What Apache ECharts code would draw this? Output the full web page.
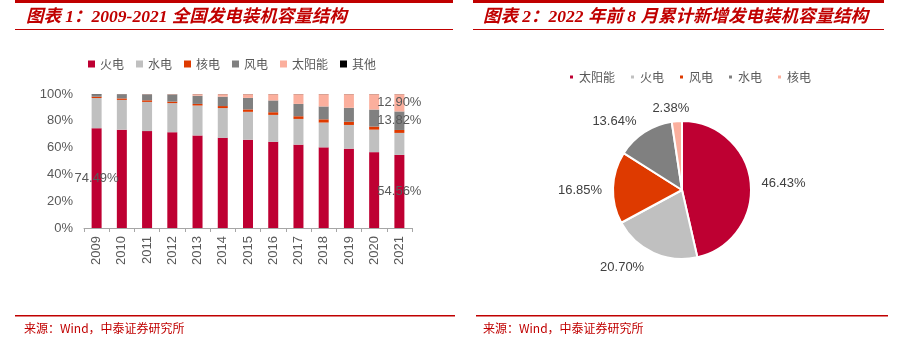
<!DOCTYPE html>
<html><head><meta charset="utf-8">
<script src="https://cdn.jsdelivr.net/npm/echarts@6/dist/echarts.min.js"></script>
<style>html,body{margin:0;padding:0;background:#fff}
#wrap{position:relative;width:899px;height:355px}
#c{position:absolute;left:0;top:0;width:899px;height:355px}
#p{position:absolute;left:460px;top:0;width:439px;height:355px}</style>
</head><body><div id="wrap"><div id="c"></div><div id="p"></div></div>
<script>
const years = ['2009','2010','2011','2012','2013','2014','2015','2016','2017','2018','2019','2020','2021'];
const fire    = [74.49,73.4,72.3,71.5,69.1,67.3,65.9,64.3,62.2,60.2,59.2,56.6,54.56];
const hydro   = [22.5,22.2,21.8,21.7,22.3,22.2,20.8,20.1,19.2,18.5,17.7,16.8,16.4];
const nuclear = [1.0,1.1,1.2,1.1,1.2,1.5,1.8,2.0,2.0,2.4,2.4,2.3,2.2];
const wind    = [1.8,3.1,4.4,5.3,6.1,7.0,8.6,8.8,9.2,9.6,10.4,12.7,13.82];
const solar   = [0.01,0.1,0.2,0.3,1.2,1.9,2.8,4.7,7.3,9.2,10.2,11.5,12.90];
const other   = [0.2,0.1,0.1,0.1,0.1,0.1,0.1,0.1,0.1,0.1,0.1,0.1,0.1];
const yTicks  = ['0%','20%','40%','60%','80%','100%'];

const pieNames  = ['太阳能','火电','风电','水电','核电'];
const pieValues = [46.43,20.70,16.85,13.64,2.38];

const C = {fire:'#BE0032', hydro:'#C0C0C0', nuclear:'#DE3A00', wind:'#808080', solar:'#FBAF9D', other:'#000000'};
const RED = '#C00000';
const titleFont = 'bold italic 17.5px "Liberation Serif", "Noto Sans CJK SC", serif';
const cjkFont = '"Noto Sans CJK SC", sans-serif';
const numFont = '"Liberation Sans", Arial, sans-serif';

function labeled(arr, idxs) {
  return arr.map((v, i) => idxs.includes(i)
    ? {value: v, label: {show: true, position: 'inside', formatter: v.toFixed(2) + '%', color: '#595959', fontSize: 13, fontFamily: numFont}}
    : v);
}

const barSeries = [
  ['火电', labeled(fire, [0, 12]), C.fire],
  ['水电', hydro, C.hydro],
  ['核电', nuclear, C.nuclear],
  ['风电', labeled(wind, [12]), C.wind],
  ['太阳能', labeled(solar, [12]), C.solar],
  ['其他', other, C.other]
].map(([n, d, c]) => ({
  name: n, type: 'bar', stack: 's', data: d, barWidth: 10,
  itemStyle: {color: c}, label: {show: false}, emphasis: {disabled: true}
}));

const chart = echarts.init(document.getElementById('c'), null, {renderer: 'canvas'});
chart.setOption({
  animation: false,
  backgroundColor: '#fff',
  legend: {
    data: ['火电','水电','核电','风电','太阳能','其他'],
    left: 88, top: 58, padding: 0, itemWidth: 7, itemHeight: 7, itemGap: 12, icon: 'rect',
    textStyle: {color: '#595959', fontSize: 12, fontFamily: cjkFont}
  },
  grid: {left: 84, top: 94, width: 328, height: 134, containLabel: false},
  xAxis: {
    type: 'category', data: years,
    axisLine: {lineStyle: {color: '#A6A6A6'}},
    axisTick: {show: true, length: 4, lineStyle: {color: '#A6A6A6'}},
    axisLabel: {rotate: 90, color: '#595959', fontSize: 13, fontFamily: numFont, margin: 8}
  },
  yAxis: {
    type: 'value', min: 0, max: 100, interval: 20,
    axisLine: {show: false}, axisTick: {show: false}, splitLine: {show: false},
    axisLabel: {color: '#595959', fontSize: 13, fontFamily: numFont, margin: 11,
      formatter: (v) => yTicks[Math.round(v / 20)]}
  },
  series: barSeries,
  graphic: [
    {type: 'rect', shape: {x: 15, y: 0, width: 438, height: 3}, style: {fill: RED}},
    {type: 'rect', shape: {x: 15, y: 29, width: 438, height: 1}, style: {fill: RED}},
    {type: 'rect', shape: {x: 473, y: 0, width: 411, height: 3}, style: {fill: RED}},
    {type: 'rect', shape: {x: 473, y: 29, width: 411, height: 1}, style: {fill: RED}},
    {type: 'rect', shape: {x: 15, y: 315, width: 440, height: 1.5}, style: {fill: RED}},
    {type: 'rect', shape: {x: 476, y: 315, width: 412, height: 1.5}, style: {fill: RED}},
    {type: 'text', left: 26, top: 9, style: {text: '图表 1：2009-2021 全国发电装机容量结构', font: titleFont, fill: RED}},
    {type: 'text', left: 483, top: 9, style: {text: '图表 2：2022 年前 8 月累计新增发电装机容量结构', font: titleFont, fill: RED}},
    {type: 'text', left: 24, top: 322, style: {text: '来源：Wind，中泰证券研究所', font: '12px ' + cjkFont, fill: RED}},
    {type: 'text', left: 483, top: 322, style: {text: '来源：Wind，中泰证券研究所', font: '12px ' + cjkFont, fill: RED}}
  ]
});

const labelShift = [[-6, 2], [3, 7], [1, 3], [5, -7], [22, -5]];
const pie = echarts.init(document.getElementById('p'), null, {renderer: 'canvas'});
pie.setOption({
  animation: false,
  backgroundColor: 'transparent',
  legend: {
    data: pieNames,
    left: 108, top: 71, padding: 0, itemWidth: 5, itemHeight: 5, itemGap: 14, icon: 'rect',
    textStyle: {color: '#595959', fontSize: 12, fontFamily: cjkFont}
  },
  series: [{
    type: 'pie', name: 'pie', center: [222, 190], radius: 69, startAngle: 90, clockwise: true,
    data: pieNames.map((n, i) => ({name: n, value: pieValues[i],
      itemStyle: {color: [C.fire, C.hydro, C.nuclear, C.wind, C.solar][i]}})),
    itemStyle: {borderColor: '#fff', borderWidth: 2},
    label: {show: true, position: 'outside', formatter: (p) => p.value.toFixed(2) + '%',
      color: '#404040', fontSize: 13, fontFamily: numFont},
    labelLine: {show: false, length: 8, length2: 4},
    labelLayout: (p) => ({dx: labelShift[p.dataIndex][0], dy: labelShift[p.dataIndex][1]}),
    emphasis: {disabled: true}
  }]
});
</script></body></html>
